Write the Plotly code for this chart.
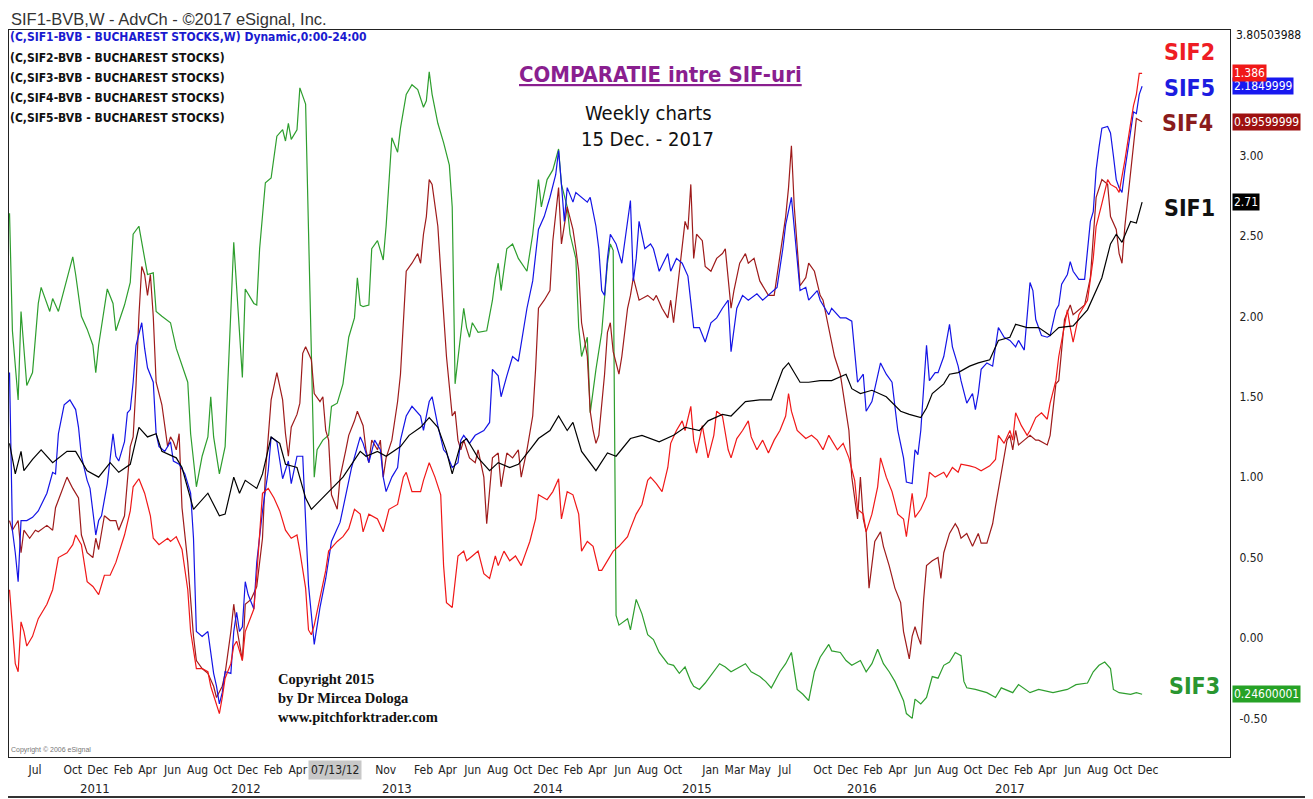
import pandas as pd
import plotly.graph_objects as go

START_DATE = "2010-05-14"   # first weekly bar shown

# ---- series (week index from START_DATE, value on the comparison scale) ----
sif1_weeks = [0,2,4,5,8,11,15,20,23,27,31,35,38,42,45,48,51,53,58,60,64,69,73,75,78,80,82,86,88,91,94,96,100,103,105,110,116,122,124,128,131,136,139,143,146,149,152,154,157,159,163,167,170,174,177,181,184,188,191,194,196,199,202,204,208,211,216,220,226,231,235,240,243,248,251,256,261,265,269,271,275,278,282,286,291,293,296,300,305,310,313,317,319,321,325,327,330,334,337,341,344,348,350,354,358,362,365,370,375,378,380,383,385,387,390,392,394]
sif1_vals = [1.21,1.02,1.16,1.04,1.11,1.17,1.09,1.16,1.16,1.04,1.00,1.09,1.03,1.08,1.31,1.25,1.27,1.16,1.12,1.06,0.80,0.90,0.76,0.77,1.00,0.90,0.98,0.93,1.02,1.25,1.21,1.08,1.06,0.87,0.80,0.89,1.00,1.16,1.13,1.16,1.13,1.19,1.26,1.31,1.37,1.31,1.16,1.02,1.21,1.24,1.12,1.04,1.09,1.06,1.08,1.17,1.24,1.29,1.38,1.29,1.34,1.16,1.09,1.04,1.15,1.13,1.24,1.26,1.22,1.26,1.31,1.29,1.35,1.39,1.38,1.47,1.48,1.48,1.67,1.71,1.59,1.59,1.60,1.60,1.64,1.55,1.52,1.54,1.50,1.41,1.39,1.37,1.43,1.52,1.58,1.64,1.65,1.69,1.71,1.73,1.85,1.87,1.95,1.93,1.93,1.88,1.93,1.94,2.04,2.16,2.24,2.45,2.51,2.46,2.59,2.58,2.71]

sif2_weeks = [0,1,2,3,4,5,6,8,10,13,15,17,20,22,23,25,27,29,31,33,35,37,38,40,42,43,45,47,49,50,52,55,56,58,60,62,63,65,67,69,70,72,73,74,75,77,78,79,81,82,85,86,88,90,92,94,96,98,100,101,103,104,105,106,108,110,111,114,116,118,120,122,123,125,128,130,132,135,137,138,140,143,144,146,148,150,151,152,154,155,156,158,159,161,163,165,167,169,170,172,174,176,178,181,183,184,187,189,191,192,194,196,198,199,201,203,205,206,208,210,212,215,216,218,220,222,223,225,227,229,230,232,234,235,237,238,239,241,243,245,246,248,250,251,253,255,257,258,260,262,264,266,268,270,271,272,274,277,279,281,283,285,288,290,292,294,295,297,298,300,302,303,305,307,309,311,312,313,314,315,317,319,320,322,325,326,328,330,331,334,336,338,341,343,344,346,348,349,350,352,354,355,357,359,361,362,364,365,366,368,369,370,372,373,375,377,378,380,382,383,385,386,388,390,391,392,393,394]
sif2_vals = [0.30,0.04,-0.16,-0.21,0.10,0.04,-0.05,0.01,0.12,0.21,0.30,0.50,0.53,0.58,0.64,0.58,0.35,0.32,0.27,0.39,0.39,0.47,0.53,0.64,0.79,0.94,0.99,0.90,0.76,0.62,0.58,0.62,0.60,0.63,0.55,0.30,0.04,-0.19,-0.19,-0.21,-0.30,-0.42,-0.47,-0.37,-0.25,-0.16,-0.05,-0.02,-0.14,0.04,0.18,0.39,0.90,0.93,0.87,0.79,0.67,0.62,0.64,0.54,0.31,0.05,0.02,0.08,0.25,0.42,0.54,0.60,0.63,0.68,0.80,0.77,0.66,0.77,0.74,0.66,0.80,0.83,1.00,1.03,0.91,0.91,0.98,1.09,1.00,0.89,0.45,0.22,0.19,0.34,0.51,0.54,0.48,0.51,0.54,0.40,0.37,0.51,0.45,0.54,0.48,0.51,0.45,0.60,0.74,0.89,0.86,0.91,0.99,0.74,0.91,0.89,0.77,0.54,0.60,0.57,0.42,0.42,0.48,0.54,0.57,0.63,0.68,0.77,0.83,0.98,1.00,0.96,0.91,1.06,1.21,1.29,1.35,1.29,1.44,1.23,1.15,1.32,1.12,1.26,1.41,1.38,1.17,1.12,1.24,1.29,1.35,1.25,1.17,1.23,1.15,1.23,1.29,1.38,1.52,1.41,1.29,1.24,1.26,1.23,1.17,1.26,1.17,1.21,1.12,0.98,0.80,0.77,0.66,0.77,0.94,1.12,1.00,0.91,0.77,0.74,0.63,0.76,0.90,0.75,0.80,0.88,1.03,1.00,1.03,1.00,1.06,1.03,1.08,1.07,1.06,1.04,1.07,1.11,1.26,1.21,1.29,1.23,1.40,1.32,1.26,1.29,1.37,1.40,1.36,1.46,1.60,1.75,1.84,2.04,1.93,1.84,2.01,2.04,2.10,2.36,2.56,2.70,2.85,2.82,2.80,2.77,2.97,3.20,3.31,3.38,3.51,3.51]

sif3_weeks = [0,1,3,4,6,8,10,11,14,15,17,20,22,23,25,27,29,30,31,34,36,37,40,42,43,45,46,48,50,51,53,56,58,62,63,65,67,69,70,71,73,75,78,79,80,81,82,85,86,87,89,91,93,95,96,97,98,100,101,103,104,106,107,109,111,112,114,116,118,120,121,122,123,125,126,128,130,131,133,135,136,138,140,142,144,145,146,147,149,151,153,154,155,156,157,158,159,160,161,163,166,168,169,170,171,173,175,177,180,182,184,185,187,189,191,192,194,195,197,198,199,201,202,204,206,208,209,210,211,212,215,216,218,220,222,224,226,229,231,233,235,237,238,240,242,245,247,249,251,254,256,258,261,263,265,268,270,272,274,276,278,280,282,285,286,289,291,293,296,298,300,302,304,306,308,311,312,314,315,317,319,321,323,325,327,329,331,332,333,336,340,343,345,349,351,355,358,363,368,371,375,377,379,381,383,384,386,390,392,394]
sif3_vals = [2.64,1.91,1.48,2.03,1.57,1.65,2.08,2.18,2.03,2.11,2.03,2.23,2.37,2.26,2.00,1.92,1.82,1.65,1.82,2.17,2.08,1.91,2.07,2.21,2.51,2.56,2.46,2.26,2.27,2.03,2.00,1.96,1.80,1.59,1.27,0.94,1.13,1.25,1.50,1.25,1.02,1.19,2.46,2.19,1.94,1.62,2.17,2.08,2.07,2.42,2.83,2.86,3.12,3.16,3.09,3.20,3.10,3.16,3.42,3.32,2.54,1.00,1.17,1.23,1.26,1.44,1.46,1.58,1.87,1.99,2.24,2.07,2.06,2.07,2.42,2.47,2.35,2.56,3.11,3.02,3.17,3.38,3.44,3.41,3.30,3.34,3.52,3.38,3.20,3.08,2.94,2.68,1.58,1.75,1.90,2.05,1.93,1.87,1.96,1.90,1.91,2.10,2.24,2.33,2.16,2.42,2.45,2.36,2.28,2.51,2.85,2.68,2.85,2.91,3.04,2.82,2.68,2.51,2.36,1.93,1.75,1.87,1.40,1.67,1.90,2.33,2.45,2.41,0.14,0.08,0.12,0.05,0.24,0.15,0.02,-0.01,-0.09,-0.16,-0.17,-0.22,-0.18,-0.27,-0.30,-0.32,-0.28,-0.21,-0.16,-0.18,-0.21,-0.18,-0.16,-0.21,-0.24,-0.27,-0.31,-0.21,-0.16,-0.09,-0.32,-0.35,-0.39,-0.21,-0.12,-0.04,-0.08,-0.09,-0.14,-0.17,-0.14,-0.21,-0.16,-0.07,-0.16,-0.21,-0.27,-0.39,-0.47,-0.50,-0.38,-0.41,-0.37,-0.24,-0.25,-0.17,-0.15,-0.09,-0.11,-0.27,-0.31,-0.32,-0.34,-0.37,-0.31,-0.34,-0.29,-0.34,-0.32,-0.34,-0.32,-0.29,-0.28,-0.21,-0.17,-0.15,-0.19,-0.32,-0.34,-0.35,-0.34,-0.35]

sif4_weeks = [0,1,3,4,5,7,9,10,13,15,16,18,20,22,24,25,27,29,30,31,33,35,37,38,40,42,43,44,45,46,47,48,49,50,51,53,55,56,57,58,59,60,62,64,65,67,69,71,72,74,75,77,78,79,81,82,84,86,88,89,91,93,95,96,97,98,100,101,102,103,105,106,108,109,110,111,112,114,115,117,118,120,121,123,124,125,126,128,129,130,131,133,135,136,137,138,140,142,143,144,145,146,147,149,150,152,154,155,156,157,158,160,162,163,165,166,168,170,171,173,175,177,178,180,182,183,184,186,188,189,191,192,194,196,197,198,199,201,202,203,204,205,207,208,209,210,212,213,215,216,217,219,222,224,225,227,229,230,231,233,235,236,237,238,239,241,242,244,246,248,249,251,252,254,256,257,259,261,263,264,266,268,270,271,272,273,275,277,278,280,282,283,285,287,289,290,292,293,295,296,297,298,299,301,303,304,306,308,310,311,312,313,314,315,316,317,318,319,321,323,324,325,327,329,330,331,333,335,337,338,340,342,343,345,347,348,349,350,351,353,355,357,358,361,362,364,365,367,369,370,372,374,376,378,380,382,383,385,386,387,388,390,391,392,394]
sif4_vals = [0.73,0.67,0.73,0.53,0.67,0.62,0.67,0.66,0.70,0.67,0.81,0.90,1.00,0.93,0.87,0.64,0.53,0.50,0.62,0.55,0.76,0.73,0.73,0.67,0.76,1.19,1.25,1.57,2.00,2.31,2.26,2.13,2.26,2.00,1.59,1.45,1.19,1.25,1.22,1.17,1.27,0.81,0.47,0.01,-0.14,-0.19,-0.22,-0.30,-0.37,-0.30,-0.22,0.04,0.21,0.07,-0.14,0.21,0.24,0.32,0.62,1.02,1.48,1.65,1.48,1.27,1.13,1.31,1.39,1.46,1.77,1.81,1.73,1.52,1.47,1.50,1.29,1.23,0.89,0.80,1.00,1.17,1.26,1.35,1.41,1.32,1.17,1.09,1.23,1.17,1.23,1.00,1.12,1.23,1.47,1.64,1.99,2.28,2.33,2.39,2.33,2.51,2.62,2.85,2.82,2.56,2.28,1.75,1.38,1.41,1.23,1.17,1.23,1.12,1.09,1.17,1.00,0.71,1.12,1.15,0.94,1.15,1.12,1.17,1.00,1.17,1.38,1.67,2.05,2.10,2.16,2.47,2.80,2.45,2.68,2.54,2.42,2.28,1.96,1.75,1.41,1.29,1.21,1.26,1.64,1.90,1.96,1.78,1.64,1.75,2.05,2.13,2.24,2.10,2.13,2.10,2.13,2.05,1.99,2.10,1.96,2.28,2.59,2.54,2.82,2.36,2.51,2.47,2.31,2.28,2.36,2.39,2.42,2.05,2.16,2.33,2.39,2.33,2.36,2.22,2.16,2.13,2.13,2.36,2.62,2.80,3.06,2.68,2.19,2.24,2.33,2.28,2.13,2.10,1.93,1.75,1.64,1.52,1.29,1.00,0.74,1.00,0.74,0.66,0.31,0.60,0.66,0.57,0.45,0.31,0.22,0.04,-0.04,-0.13,0.01,0.07,0.01,-0.04,0.24,0.45,0.48,0.50,0.37,0.53,0.65,0.71,0.68,0.62,0.65,0.57,0.65,0.59,0.59,0.71,0.82,1.03,1.23,1.26,1.17,1.29,1.20,1.23,1.26,1.23,1.23,1.20,1.26,1.58,1.60,1.98,2.07,2.01,2.04,2.07,2.24,2.74,2.85,2.82,2.62,2.54,2.39,2.33,2.56,2.91,3.08,3.23,3.21]

sif5_weeks = [0,1,2,3,4,6,8,10,13,15,16,17,19,21,23,24,25,27,28,29,30,31,32,34,36,37,38,40,41,42,43,44,46,47,48,50,51,52,54,56,57,59,61,63,64,65,67,69,71,72,73,74,75,77,78,79,80,81,82,83,85,86,88,90,91,93,95,97,98,100,102,103,104,106,108,110,112,115,117,119,122,123,125,127,129,130,131,133,135,136,138,140,143,144,146,147,149,151,152,154,156,157,158,160,162,165,167,168,170,171,173,175,177,180,182,184,186,188,190,191,192,193,194,196,197,199,201,202,204,205,206,207,208,209,211,213,215,216,217,218,219,221,223,224,226,229,230,232,234,236,238,240,242,244,246,248,250,251,253,255,257,260,262,264,267,269,270,272,273,275,277,278,281,282,285,286,289,291,293,295,297,298,300,302,303,305,307,309,311,312,314,315,316,317,319,320,322,323,325,327,328,330,331,333,335,336,337,338,340,342,343,344,346,348,350,351,353,355,356,357,359,361,362,364,365,366,368,369,370,372,374,376,377,378,379,380,382,383,384,385,386,387,388,390,391,392,393,394]
sif5_vals = [1.65,0.67,0.53,0.35,0.73,0.73,0.75,0.79,0.90,1.03,1.02,1.27,1.45,1.48,1.42,1.31,1.13,0.98,0.93,0.79,0.64,0.73,0.76,0.96,1.27,1.13,1.10,1.22,1.40,1.42,1.59,1.82,1.96,1.80,1.68,1.59,1.27,1.19,1.16,1.22,1.10,1.08,1.02,0.90,0.62,0.04,0.01,0.04,-0.22,-0.30,-0.41,-0.34,-0.21,-0.22,0.04,0.16,0.04,0.07,0.35,0.27,0.18,0.47,0.79,1.04,1.25,1.22,0.99,1.10,0.96,1.13,1.13,0.73,0.33,-0.04,0.19,0.37,0.60,0.72,0.89,1.06,1.25,1.21,1.09,1.23,1.17,1.00,0.91,1.00,1.06,1.23,1.38,1.44,1.38,1.29,1.47,1.50,1.32,1.17,1.15,1.06,1.09,1.23,1.26,1.21,1.26,1.29,1.34,1.67,1.63,1.50,1.63,1.75,1.72,2.05,2.22,2.54,2.62,2.74,2.88,3.03,2.82,2.59,2.80,2.71,2.77,2.74,2.71,2.74,2.56,2.42,2.16,2.13,2.36,2.51,2.45,2.33,2.57,2.72,2.22,2.36,2.59,2.42,2.45,2.42,2.28,2.39,2.28,2.36,2.33,2.25,1.93,1.93,1.84,1.96,1.99,2.05,2.10,1.78,2.05,2.13,2.10,2.14,2.10,2.13,2.18,2.42,2.57,2.74,2.54,2.16,2.18,2.10,2.16,2.10,2.01,2.05,1.99,1.99,1.97,1.59,1.64,1.41,1.47,1.64,1.71,1.64,1.59,1.29,1.12,0.97,0.96,1.17,1.14,1.29,1.82,1.60,1.65,1.65,1.75,1.95,1.81,1.69,1.60,1.46,1.52,1.42,1.52,1.67,1.71,1.69,1.81,1.93,1.87,1.85,1.81,1.85,1.79,2.21,2.16,1.98,1.88,1.87,1.88,2.04,2.07,2.20,2.26,2.34,2.28,2.23,2.23,2.59,2.65,2.91,3.05,3.17,3.18,3.14,3.00,2.85,2.80,2.77,2.91,3.14,3.27,3.26,3.38,3.43]

# last raw quotes shown in the right-hand boxes
last_quotes = {"SIF1": "2.71", "SIF2": "1.386", "SIF3": "0.24600001", "SIF4": "0.99599999", "SIF5": "2.1849999"}
scale_top_quote = "3.80503988"

# ---- axes text ----
y_tick_vals = [-0.5, 0.0, 0.5, 1.0, 1.5, 2.0, 2.5, 3.0]
y_tick_text = ["-0.50", "0.00", "0.50", "1.00", "1.50", "2.00", "2.50", "3.00"]

month_tick_dates = ["2010-07-15","2010-10-15","2010-12-15","2011-02-15","2011-04-15","2011-06-15","2011-08-15","2011-10-15","2011-12-15",
                    "2012-02-15","2012-04-15","2012-11-15","2013-02-15","2013-04-15","2013-06-15","2013-08-15",
                    "2013-10-15","2013-12-15","2014-02-15","2014-04-15","2014-06-15","2014-08-15","2014-10-15","2015-01-15","2015-03-15",
                    "2015-05-15","2015-07-15","2015-10-15","2015-12-15","2016-02-15","2016-04-15","2016-06-15","2016-08-15","2016-10-15",
                    "2016-12-15","2017-02-15","2017-04-15","2017-06-15","2017-08-15","2017-10-15","2017-12-15"]
month_tick_text = ["Jul","Oct","Dec","Feb","Apr","Jun","Aug","Oct","Dec",
                   "Feb","Apr","Nov","Feb","Apr","Jun","Aug",
                   "Oct","Dec","Feb","Apr","Jun","Aug","Oct","Jan","Mar",
                   "May","Jul","Oct","Dec","Feb","Apr","Jun","Aug","Oct",
                   "Dec","Feb","Apr","Jun","Aug","Oct","Dec"]
year_label_dates = ["2010-12-08", "2011-12-11", "2012-12-12", "2013-12-15", "2014-12-13", "2016-01-19", "2017-01-13"]
year_labels = ["2011", "2012", "2013", "2014", "2015", "2016", "2017"]
cursor_date = "2012-07-14"
cursor_label = "07/13/12"

legend_lines = ["(C,SIF1-BVB - BUCHAREST STOCKS,W) Dynamic,0:00-24:00",
                "(C,SIF2-BVB - BUCHAREST STOCKS)",
                "(C,SIF3-BVB - BUCHAREST STOCKS)",
                "(C,SIF4-BVB - BUCHAREST STOCKS)",
                "(C,SIF5-BVB - BUCHAREST STOCKS)"]

NARROW = "DejaVu Sans Condensed, Liberation Sans Narrow, Arial Narrow, sans-serif"
SANS = "Liberation Sans, Arial, sans-serif"
SERIF = "Liberation Serif, Times New Roman, serif"

colors = {"SIF1": "#000000", "SIF2": "#f01818", "SIF3": "#2e9e2e", "SIF4": "#9e1b1b", "SIF5": "#1414e6"}
label_colors = {"SIF1": "#111111", "SIF2": "#ee1c24", "SIF3": "#2a9630", "SIF4": "#8a1c1c", "SIF5": "#1c1ce0"}
box_colors = {"SIF1": "#000000", "SIF2": "#f01818", "SIF3": "#26a226", "SIF4": "#9e1010", "SIF5": "#1818f0"}

data = {
    "SIF1": (sif1_weeks, sif1_vals),
    "SIF2": (sif2_weeks, sif2_vals),
    "SIF3": (sif3_weeks, sif3_vals),
    "SIF4": (sif4_weeks, sif4_vals),
    "SIF5": (sif5_weeks, sif5_vals),
}


def to_dates(weeks):
    base = pd.Timestamp(START_DATE)
    return [base + pd.Timedelta(days=7 * w) for w in weeks]


fig = go.Figure()
for name in ["SIF3", "SIF4", "SIF5", "SIF2", "SIF1"]:
    wk, vl = data[name]
    n = min(len(wk), len(vl))
    fig.add_trace(go.Scatter(x=to_dates(wk[:n]), y=vl[:n], mode="lines", name=name,
                             line=dict(color=colors[name], width=1.2), showlegend=False,
                             hoverinfo="skip"))

# page geometry (the browser adds an 8px body margin around the figure)
OFF = 8
W, H = 1313 - OFF, 799 - OFF
PLOT_L, PLOT_R, PLOT_T, PLOT_B = 9, 1230, 30, 757   # page pixels
ML, MR, MT, MB = PLOT_L - OFF, W - (PLOT_R - OFF), PLOT_T - OFF, H - (PLOT_B - OFF)
PW, PH = PLOT_R - PLOT_L, PLOT_B - PLOT_T


def px(x):
    return (x - PLOT_L) / PW


def py(y):
    return (PLOT_B - y) / PH


ann = []
# header (anchored at its top so it stays inside the figure)
ann.append(dict(text="SIF1-BVB,W - AdvCh - ©2017 eSignal, Inc.", xref="paper", yref="paper",
                x=px(9), y=py(8.5), xanchor="left", yanchor="top", showarrow=False,
                font=dict(family=SANS, size=16.5, color="#333333")))
# legend lines
leg_y = [37, 57.5, 78, 98, 118]
for i, t in enumerate(legend_lines):
    ann.append(dict(text="<b>" + t + "</b>", xref="paper", yref="paper", x=px(8), y=py(leg_y[i]),
                    xanchor="left", yanchor="middle", showarrow=False,
                    font=dict(family=NARROW, size=12, color="#1a1ad0" if i == 0 else "#111111")))
# title block
ann.append(dict(text="<b><u>COMPARATIE intre SIF-uri</u></b>", xref="paper", yref="paper",
                x=px(660), y=py(75), xanchor="center", yanchor="middle", showarrow=False,
                font=dict(family=NARROW, size=22, color="#8a1f8f")))
ann.append(dict(text="Weekly charts", xref="paper", yref="paper", x=px(648), y=py(113),
                xanchor="center", yanchor="middle", showarrow=False,
                font=dict(family=NARROW, size=20, color="#111111")))
ann.append(dict(text="15 Dec. - 2017", xref="paper", yref="paper", x=px(647), y=py(139),
                xanchor="center", yanchor="middle", showarrow=False,
                font=dict(family=NARROW, size=20, color="#111111")))
# copyright
ann.append(dict(text="<b>Copyright 2015<br>by Dr Mircea Dologa<br>www.pitchforktrader.com</b>",
                xref="paper", yref="paper", x=px(276), y=py(698), xanchor="left", yanchor="middle",
                align="left", showarrow=False, font=dict(family=SERIF, size=14.5, color="#111111")))
ann.append(dict(text="Copyright © 2006 eSignal", xref="paper", yref="paper", x=px(9), y=py(750),
                xanchor="left", yanchor="middle", showarrow=False,
                font=dict(family=SANS, size=7, color="#777777")))
# series names on the right
name_pos = {"SIF2": (1189, 52), "SIF5": (1189, 88), "SIF4": (1187, 123), "SIF1": (1189, 208), "SIF3": (1194, 686)}
for name, (xx, yy) in name_pos.items():
    ann.append(dict(text="<b>" + name + "</b>", xref="paper", yref="paper", x=px(xx), y=py(yy),
                    xanchor="center", yanchor="middle", showarrow=False,
                    font=dict(family=NARROW, size=23, color=label_colors[name])))
# last value boxes on the price scale (placed at each series' last value)
for name in ["SIF5", "SIF2", "SIF4", "SIF1", "SIF3"]:
    ann.append(dict(text=last_quotes[name], xref="paper", yref="y", x=1.0, y=data[name][1][-1],
                    xanchor="left", yanchor="middle", xshift=2, showarrow=False,
                    bgcolor=box_colors[name], borderpad=1,
                    font=dict(family=NARROW, size=12, color="white")))
ann.append(dict(text=scale_top_quote, xref="paper", yref="paper", x=1.0, y=py(35), xanchor="left",
                yanchor="middle", xshift=4, showarrow=False,
                font=dict(family=NARROW, size=12, color="#111111")))
# years under the month labels
for d, t in zip(year_label_dates, year_labels):
    ann.append(dict(text=t, xref="x", yref="paper", x=d, y=py(788), xanchor="center", yanchor="middle",
                    showarrow=False, font=dict(family=NARROW, size=13, color="#222222")))
# date cursor label
ann.append(dict(text=cursor_label, xref="x", yref="paper", x=cursor_date, y=py(770), xanchor="center",
                yanchor="middle", showarrow=False, bgcolor="#c8c8c8", borderpad=2,
                font=dict(family=NARROW, size=12, color="#222222")))

shapes = [
    dict(type="line", xref="paper", yref="paper", x0=px(2), x1=px(1313), y0=py(797), y1=py(797),
         line=dict(color="#333333", width=2)),
    dict(type="line", xref="paper", yref="paper", x0=px(2), x1=px(2), y0=py(757), y1=py(797),
         line=dict(color="#333333", width=1)),
]

fig.update_layout(
    width=W, height=H, autosize=False,
    margin=dict(l=ML, r=MR, t=MT, b=MB, pad=0),
    paper_bgcolor="white", plot_bgcolor="white",
    showlegend=False,
    annotations=ann, shapes=shapes,
    xaxis=dict(type="date", range=["2010-05-12 17:00", "2018-07-03"],
               tickmode="array", tickvals=month_tick_dates, ticktext=month_tick_text,
               tickangle=0, ticks="", showgrid=False, zeroline=False,
               showline=True, linecolor="#222222", linewidth=1, mirror=True,
               ticklabelstandoff=2,
               tickfont=dict(family=NARROW, size=12, color="#222222")),
    yaxis=dict(side="right", range=[-0.740, 3.780], tickmode="array",
               tickvals=y_tick_vals, ticktext=y_tick_text, ticks="",
               showgrid=False, zeroline=False, showline=True, linecolor="#222222",
               linewidth=1, mirror=True, ticklabelstandoff=6,
               tickfont=dict(family=NARROW, size=12, color="#222222")),
)

fig.write_html("out.html")
